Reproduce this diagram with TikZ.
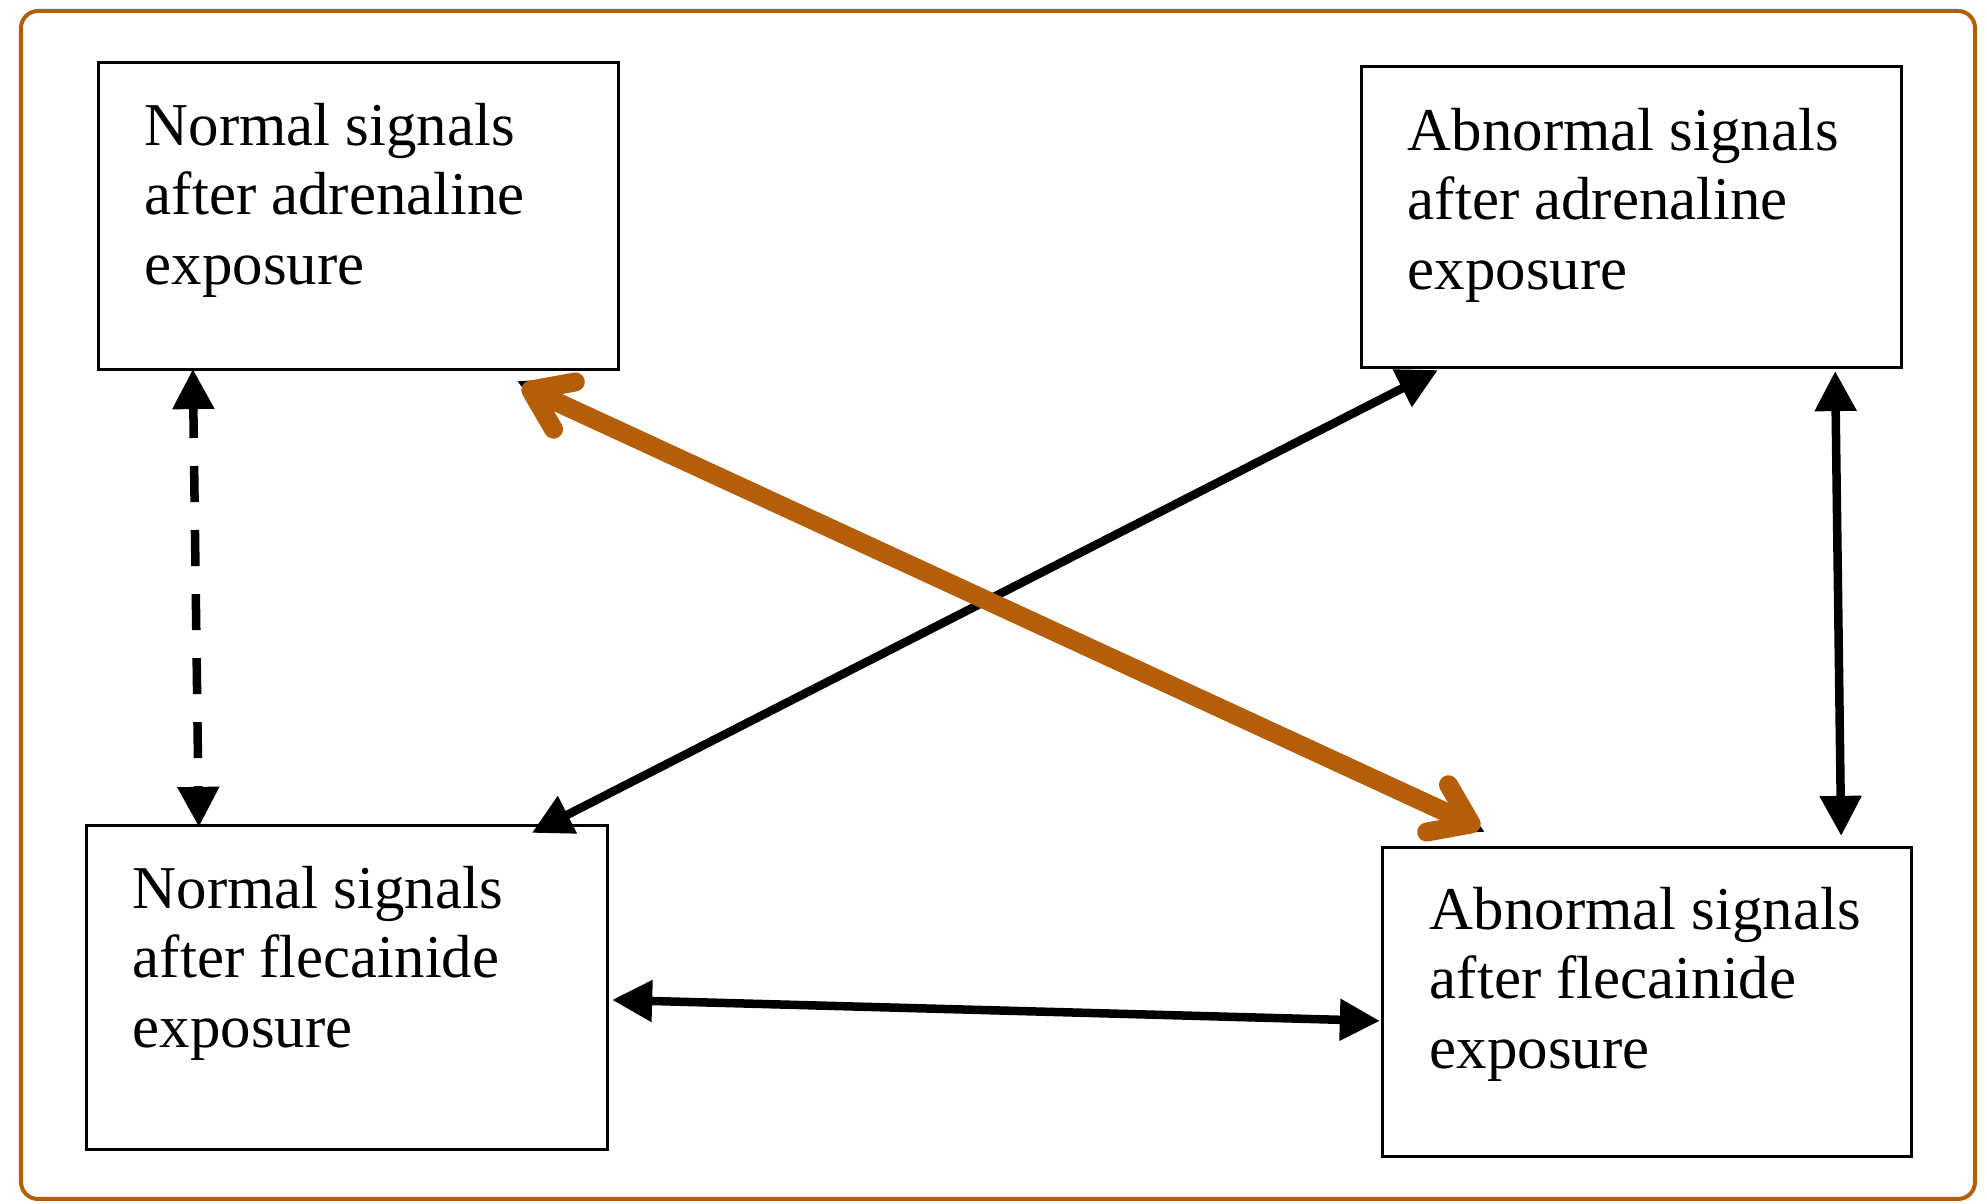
\documentclass[tikz,border=0pt]{standalone}
\usepackage{fontspec}
\setmainfont{Liberation Serif}
\usetikzlibrary{arrows.meta,calc}
\definecolor{frameor}{RGB}{181,94,8}
\begin{document}
\begin{tikzpicture}[x=0.01cm,y=-0.01cm,
  box/.style={draw=black, line width=0.03cm, inner sep=0pt, outer sep=0pt},
  lbl/.style={anchor=north west, inner sep=0pt, outer sep=0pt, align=left,
    font=\fontsize{17.3pt}{19.8pt}\selectfont},
  conn/.style={draw=black, line width=0.085cm, {Triangle[length=0.4cm,width=0.4cm]}-{Triangle[length=0.4cm,width=0.4cm]}},
  dashconn/.style={conn, dash pattern=on 0.36cm off 0.28cm, dash phase=0.05cm},
  hl/.style={draw=frameor, line width=0.19cm, line cap=round,
    {Straight Barb[length=0.37cm,width=0.52cm,round]}-{Straight Barb[length=0.37cm,width=0.52cm,round]}}
]
\useasboundingbox (0,0) rectangle (1987,1204);
\draw[frameor, line width=0.04cm, rounded corners=0.17cm] (21,11) rectangle (1975,1199);

\node[box, minimum width=5.19cm, minimum height=3.06cm] (tl) at (358.5,216) {};
\node[box, minimum width=5.39cm, minimum height=3.00cm] (tr) at (1631.5,217) {};
\node[box, minimum width=5.20cm, minimum height=3.23cm] (bl) at (347,987.5) {};
\node[box, minimum width=5.28cm, minimum height=3.08cm] (br) at (1647,1002) {};

\node[lbl] (tlt) at ($(tl.north west)+(46,40)$) {Normal signals\\after adrenaline\\exposure};
\node[lbl] (trt) at ($(tr.north west)+(46,41)$) {Abnormal signals\\after adrenaline\\exposure};
\node[lbl] (blt) at ($(bl.north west)+(46,40)$) {Normal signals\\after flecainide\\exposure};
\node[lbl] (brt) at ($(br.north west)+(47,39)$) {Abnormal signals\\after flecainide\\exposure};

% dashed TL <-> BL
\draw[dashconn] ($(tl.south west)+(94,0)$) -- ($(bl.north west)+(112,1)$);
% TR <-> BL
\draw[conn] ($(tr.south west)+(76,3)$) -- ($(bl.north west)+(445,7)$);
% TR <-> BR
\draw[conn] ($(tr.south east)+(-66,4)$) -- ($(br.north east)+(-70,-12)$);
% BL <-> BR
\draw[conn] ($(bl.north east)+(5,174)$) -- ($(br.north west)+(-3,173)$);
% TL <-> BR (black, covered by highlight)
\draw[conn] ($(tl.south east)+(-101,12)$) -- ($(br.north west)+(102,-16)$);
\draw[hl] ($(tl.south east)+(-96,17)$) -- ($(br.north west)+(97,-20)$);
\end{tikzpicture}
\end{document}
